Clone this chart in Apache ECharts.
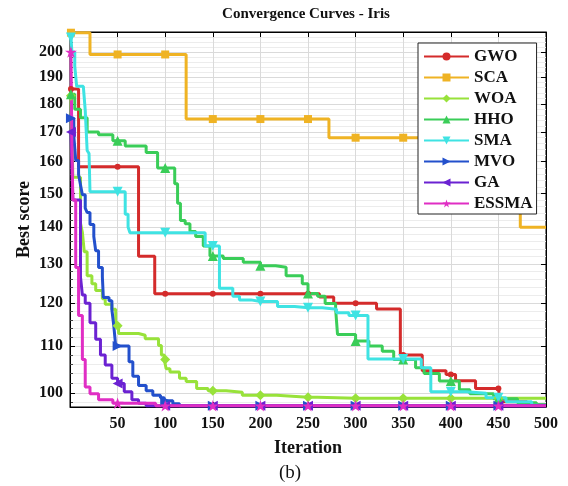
<!DOCTYPE html>
<html><head><meta charset="utf-8">
<script src="https://cdn.jsdelivr.net/npm/echarts@6/dist/echarts.min.js"></script>
<style>html,body{margin:0;padding:0;background:#fff}#c{width:568px;height:486px}</style>
</head><body><div id="c"></div>
<script>
// ---------- data ----------
const seriesNames = ['GWO','SCA','WOA','HHO','SMA','MVO','GA','ESSMA'];
const markIters = [1,50,100,150,200,250,300,350,400,450];
const xTicks = [0,50,100,150,200,250,300,350,400,450,500];
const yTicks = [100,110,120,130,140,150,160,170,180,190,200];
const yMinorTicks = [98,102,104,106,108,112,114,116,118,122,124,126,128,132,134,136,138,142,144,146,148,152,154,156,158,162,164,166,168,172,174,176,178,182,184,186,188,192,194,196,198,202,204,206,208];

const gwoSteps = [[1,185.5],[9,158.4],[72,132],[89,122.3],[262,121.5],[277,120],[322,118.6],[347,108],[370,104.6],[395,103.8],[405,102.5],[426,100.9],[452,98.2],[480,97.6],[500,97.6]];
const gwoMarks = [185.5,158.4,122.3,122.3,122.3,122.3,120,108,103.8,100.9];

const scaSteps = [[1,208],[21,199],[122,174.5],[272,168],[473,140],[500,140]];
const scaMarks = [208,199,199,174.5,174.5,174.5,168,168,168,168];

const woaSteps = [[1,183],[3,155],[11,141.2],[13,138.6],[15,133.2],[18,126.9],[23,124.8],[27,123.1],[34,121.1],[37,119.7],[44,118.5],[48,114.6],[51,112.8],[72,112.4],[79,111.6],[93,110.1],[96,108],[99,107],[101,105],[105,104.3],[115,103],[122,102.3],[133,100.9],[145,100.4],[164,100.1],[181,99.5],[217,99.1],[260,98.9],[500,98.9]];
const woaMarks = [183,114.6,107,100.4,99.5,99.1,98.9,98.9,98.9,98.9];

const hhoSteps = [[1,183.5],[5,178],[11,175],[18,170],[30,169],[45,167],[58,165.2],[80,163],[92,158],[110,153],[113,147],[116,142],[121,141],[126,138.8],[132,137.4],[140,134.8],[147,132.1],[161,131.4],[182,130.4],[200,129.5],[216,129.1],[227,126.9],[244,124.8],[250,122.4],[260,121.7],[268,119.9],[279,118.6],[281,112.6],[300,111.1],[314,110],[328,108.8],[340,107],[363,105.2],[372,104],[388,102.4],[409,100.6],[420,99.8],[445,98.8],[470,98],[490,97.6],[500,97.5]];
const hhoMarks = [183.5,167,158,132.1,129.5,122.4,111.1,107,102.4,98.8];

const smaSteps = [[1,206],[2,200],[5,194.3],[7,186.5],[14,185.9],[16,177.6],[18,163.7],[20,162.7],[21,150.5],[58,143.8],[61,140.1],[63,138.5],[142,134.8],[157,123.7],[171,121.7],[178,120.8],[190,120.4],[218,119.2],[236,118.9],[265,118.5],[280,117.7],[293,117],[313,107.1],[369,105.2],[379,100.2],[416,99.9],[437,99],[458,98.2],[485,97.5],[500,97.4]];
const smaMarks = [206,150.5,138.5,134.8,120.4,118.9,117,107.1,100.2,99];

const mvoSteps = [[1,174.8],[4,168.6],[6,160.4],[9,155.9],[11,152.7],[13,149.6],[16,145.6],[18,144.3],[21,140.8],[25,137.4],[27,133.5],[30,129],[34,126.6],[35,121.4],[41,120.6],[44,118.4],[46,114.6],[48,110],[62,106.5],[66,103.4],[72,101.5],[80,100.4],[87,99.5],[95,99],[99,98.4],[108,97.8],[115,97.4],[500,97.4]];
const mvoMarks = [174.8,110,98.4,97.4,97.4,97.4,97.4,97.4,97.4,97.4];

const gaSteps = [[1,170],[3,148],[11,126.6],[13,122],[16,120],[21,115.3],[27,111.5],[32,108],[37,105.8],[44,103],[50,101.9],[57,100.2],[65,98.6],[72,97.9],[80,97.4],[500,97.4]];
const gaMarks = [170,101.9,97.4,97.4,97.4,97.4,97.4,97.4,97.4,97.4];

const essmaSteps = [[1,200],[2,165],[3,148],[6,129],[9,117],[13,107],[16,101.2],[21,99.8],[30,98.6],[45,97.9],[90,97.4],[500,97.4]];
const essmaMarks = [200,97.9,97.4,97.4,97.4,97.4,97.4,97.4,97.4,97.4];

// ---------- styles ----------
const STAR = 'path://M50,0 L61.2,34.5 L97.6,34.5 L68.2,55.9 L79.4,90.5 L50,69.1 L20.6,90.5 L31.8,55.9 L2.4,34.5 L38.8,34.5 Z';
const styles = [
  {color:'#d42b2b', symbol:'circle', size:6, rot:0},
  {color:'#efb324', symbol:'rect', size:8, rot:0},
  {color:'#98e23a', symbol:'diamond', size:10, rot:0},
  {color:'#3acd58', symbol:'triangle', size:10, rot:0},
  {color:'#3fe3e3', symbol:'triangle', size:10, rot:180},
  {color:'#2350cc', symbol:'triangle', size:10, rot:-90},
  {color:'#6b22d2', symbol:'triangle', size:10, rot:90},
  {color:'#e02ec4', symbol:STAR, size:12, rot:0}
];
const stepSets = [gwoSteps, scaSteps, woaSteps, hhoSteps, smaSteps, mvoSteps, gaSteps, essmaSteps];
const markSets = [gwoMarks, scaMarks, woaMarks, hhoMarks, smaMarks, mvoMarks, gaMarks, essmaMarks];

function buildData(steps, marks) {
  const pts = steps.map(p => ({value: [p[0], p[1]], symbol: 'none', _o: 0}));
  marks.forEach((v, i) => pts.push({value: [markIters[i], v], _o: 1}));
  pts.sort((a, b) => a.value[0] - b.value[0] || a._o - b._o);
  return pts.map(p => p.symbol ? {value: p.value, symbol: p.symbol} : {value: p.value});
}

const FONT = 'Liberation Serif';
const YMIN = 97.15, YMAX = 208.3;

const series = seriesNames.map((name, i) => ({
  name: name,
  type: 'line',
  step: 'end',
  data: buildData(stepSets[i], markSets[i]),
  symbol: styles[i].symbol,
  symbolSize: styles[i].size,
  symbolRotate: styles[i].rot,
  symbolKeepAspect: true,
  showSymbol: true,
  showAllSymbol: true,
  lineStyle: {width: 3, color: styles[i].color},
  itemStyle: {color: styles[i].color},
  emphasis: {disabled: true},
  xAxisIndex: 0,
  yAxisIndex: 0
}));

const chart = echarts.init(document.getElementById('c'), null, {renderer: 'canvas'});
chart.setOption({
  animation: false,
  backgroundColor: '#fff',
  grid: {left: 70, right: 22, top: 32, bottom: 79, show: true, borderColor: '#000', borderWidth: 1, backgroundColor: 'transparent'},
  legend: {
    orient: 'vertical', left: 418, top: 43,
    padding: [5, 4, 2, 5],
    itemWidth: 45, itemHeight: 10, itemGap: 4,
    backgroundColor: '#fff', borderColor: '#222', borderWidth: 1,
    textStyle: {fontFamily: FONT, fontWeight: 'bold', fontSize: 17, color: '#111', lineHeight: 17},
    data: seriesNames
  },
  graphic: [
    {type: 'text', x: 306, y: 14, style: {text: 'Convergence Curves - Iris', font: 'bold 15px "Liberation Serif"', fill: '#111', textAlign: 'center', textVerticalAlign: 'middle'}},
    {type: 'text', x: 290, y: 473, style: {text: '(b)', font: '19px "Liberation Serif"', fill: '#111', textAlign: 'center', textVerticalAlign: 'middle'}}
  ],
  xAxis: [
    {type: 'value', min: 0, max: 500, interval: 50, position: 'bottom',
     name: 'Iteration', nameLocation: 'middle', nameGap: 32, nameMoveOverlap: false,
     nameTextStyle: {fontFamily: FONT, fontWeight: 'bold', fontSize: 18, color: '#111'},
     axisLine: {show: true, lineStyle: {color: '#000', width: 1}},
     axisTick: {show: true, inside: true, length: 5, lineStyle: {color: '#000'}},
     axisLabel: {margin: 9, fontFamily: FONT, fontWeight: 'bold', fontSize: 16, color: '#111',
                 formatter: v => (v === 0 ? '' : String(v))},
     splitLine: {show: true, lineStyle: {color: '#dadada', width: 1}}},
    {type: 'value', min: 0, max: 500, interval: 50, position: 'top',
     axisLine: {show: true, lineStyle: {color: '#000', width: 1}},
     axisTick: {show: true, inside: true, length: 5, lineStyle: {color: '#000'}},
     axisLabel: {show: false}, splitLine: {show: false}}
  ],
  yAxis: [
    {type: 'log', logBase: 10, min: YMIN, max: YMAX, position: 'left',
     name: 'Best score', nameLocation: 'middle', nameGap: 37, nameRotate: 90, nameMoveOverlap: false,
     nameTextStyle: {fontFamily: FONT, fontWeight: 'bold', fontSize: 18, color: '#111'},
     axisLine: {show: true, lineStyle: {color: '#000', width: 1}},
     axisTick: {show: true, inside: true, length: 5, customValues: yTicks, lineStyle: {color: '#000'}},
     axisLabel: {margin: 7, customValues: yTicks, fontFamily: FONT, fontWeight: 'bold', fontSize: 16, color: '#111',
                 formatter: v => String(Math.round(v))},
     splitLine: {show: true, lineStyle: {color: '#dadada', width: 1}}},
    {type: 'log', logBase: 10, min: YMIN, max: YMAX, position: 'left',
     axisLine: {show: false},
     axisTick: {show: true, inside: true, length: 3, customValues: yMinorTicks, lineStyle: {color: '#444'}},
     axisLabel: {show: false},
     splitLine: {show: true, lineStyle: {color: '#ececec', width: 1}}},
    {type: 'log', logBase: 10, min: YMIN, max: YMAX, position: 'right',
     axisLine: {show: true, lineStyle: {color: '#000', width: 1}},
     axisTick: {show: true, inside: true, length: 5, customValues: yTicks, lineStyle: {color: '#000'}},
     axisLabel: {show: false}, splitLine: {show: false}}
  ],
  series: series
});
</script>
</body></html>
